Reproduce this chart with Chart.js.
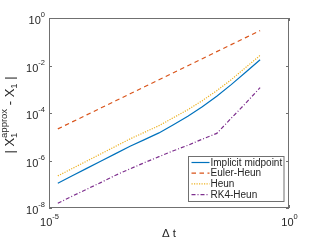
<!DOCTYPE html>
<html><head><meta charset="utf-8">
<script src="https://cdn.jsdelivr.net/npm/chart.js@4/dist/chart.umd.min.js"></script>
<style>html,body{margin:0;padding:0;background:#fff}#wrap{width:320px;height:240px}</style>
</head><body><div id="wrap"><canvas id="c" width="320" height="240"></canvas></div>
<script>
// ---- data ----
const dt = [1.52587890625e-5, 3.0517578125e-5, 6.103515625e-5, 1.220703125e-4, 2.44140625e-4,
  4.8828125e-4, 9.765625e-4, 0.001953125, 0.00390625, 0.0078125, 0.015625, 0.03125, 0.0625, 0.125, 0.25];
const implicitMidpoint = [1.11e-7, 2.27e-7, 4.65e-7, 9.53e-7, 1.95e-6, 4.0e-6, 7.6e-6, 1.45e-5, 3.21e-5, 7.33e-5, 1.84e-4, 5.09e-4, 1.56e-3, 5.22e-3, 0.0175];
const eulerHeun = [2.14e-5, 4.22e-5, 8.35e-5, 1.65e-4, 3.26e-4, 6.44e-4, 1.27e-3, 2.51e-3, 4.97e-3, 9.8e-3, 0.0194, 0.0383, 0.0756, 0.149, 0.295];
const heun = [2.25e-7, 4.6e-7, 9.44e-7, 1.93e-6, 3.96e-6, 8.11e-6, 1.54e-5, 2.93e-5, 6.34e-5, 1.38e-4, 3.30e-4, 8.69e-4, 2.52e-3, 8.24e-3, 0.0266];
const rk4Heun = [1.58e-8, 3.16e-8, 6.17e-8, 1.20e-7, 2.40e-7, 4.47e-7, 8.13e-7, 1.45e-6, 2.57e-6, 4.37e-6, 7.94e-6, 1.38e-5, 6.03e-5, 2.57e-4, 1.17e-3];
const seriesNames = ['Implicit midpoint', 'Euler-Heun', 'Heun', 'RK4-Heun'];
const xTicks = [1e-5, 1];
const xTickExp = ['-5', '0'];
const yTicks = [1e-8, 1e-6, 1e-4, 1e-2, 1];
const yTickExp = ['-8', '-6', '-4', '-2', '0'];

const colors = ['#0072BD', '#D95319', '#EDB120', '#7E2F8E'];
const dashes = [[], [4.5, 3.5], [1.2, 1.3], [4, 2, 1, 2]];
const allSeries = [implicitMidpoint, eulerHeun, heun, rk4Heun];

const FONT = '"Liberation Sans", Arial, Helvetica, sans-serif';
const TXT = '#262626';
const AX = '#707070';

function pow10(ctx, exp, x, y, align, bs, es, rise) {
  ctx.font = bs + 'px ' + FONT;
  const wb = ctx.measureText('10').width;
  ctx.font = es + 'px ' + FONT;
  const we = ctx.measureText(exp).width;
  const w = wb + we;
  let x0 = align === 'right' ? x - w : (align === 'center' ? x - w / 2 : x);
  ctx.textAlign = 'left';
  ctx.textBaseline = 'alphabetic';
  ctx.fillStyle = TXT;
  ctx.font = bs + 'px ' + FONT;
  ctx.fillText('10', x0, y);
  ctx.font = es + 'px ' + FONT;
  ctx.fillText(exp, x0 + wb, y - rise);
}

const decor = {
  id: 'decor',
  afterDatasetsDraw(chart) {
    const ctx = chart.ctx;
    const a = chart.chartArea;
    const xs = chart.scales.x, ys = chart.scales.y;
    ctx.save();
    // frame
    ctx.strokeStyle = AX;
    ctx.lineWidth = 1;
    ctx.setLineDash([]);
    ctx.strokeRect(Math.round(a.left) + 0.5, Math.round(a.top) + 0.5,
      Math.round(a.right - a.left) - 1, Math.round(a.bottom - a.top) - 1);
    // y ticks
    yTicks.forEach((v, i) => {
      const py = Math.round(ys.getPixelForValue(v)) + 0.5;
      ctx.beginPath();
      ctx.moveTo(a.left, py); ctx.lineTo(a.left + 3, py);
      ctx.moveTo(a.right, py); ctx.lineTo(a.right - 3, py);
      ctx.stroke();
      pow10(ctx, yTickExp[i], a.left - 4, py + 5.5, 'right', 11, 7.5, 7);
    });
    xTicks.forEach((v, i) => {
      const px = Math.round(xs.getPixelForValue(v)) + 0.5;
      ctx.beginPath();
      ctx.moveTo(px, a.bottom); ctx.lineTo(px, a.bottom - 3);
      ctx.moveTo(px, a.top); ctx.lineTo(px, a.top + 3);
      ctx.stroke();
      pow10(ctx, xTickExp[i], px, a.bottom + 17.5, 'center', 11, 7.5, 7);
    });
    // x label
    ctx.fillStyle = TXT;
    ctx.font = '11.5px ' + FONT;
    ctx.textAlign = 'center';
    ctx.textBaseline = 'alphabetic';
    ctx.fillText('\u0394 t', (a.left + a.right) / 2, 237);
    // y label (rotated)
    ctx.save();
    ctx.translate(13.5, (a.top + a.bottom) / 2 + 2);
    ctx.rotate(-Math.PI / 2);
    const main = 13, small = 9.5;
    const parts = ['| X', '1', 'approx', ' - X', '1', ' |'];
    const sizes = [main, small, small, main, small, main];
    const ws = parts.map((p, i) => { ctx.font = sizes[i] + 'px ' + FONT; return ctx.measureText(p).width; });
    const total = ws[0] + Math.max(ws[1], ws[2]) + ws[3] + ws[4] + ws[5];
    let cx = -total / 2;
    ctx.textAlign = 'left';
    ctx.fillStyle = TXT;
    ctx.font = main + 'px ' + FONT; ctx.fillText(parts[0], cx, 0); cx += ws[0];
    ctx.font = small + 'px ' + FONT; ctx.fillText('1', cx, 3); ctx.fillText('approx', cx, -7); cx += Math.max(ws[1], ws[2]);
    ctx.font = main + 'px ' + FONT; ctx.fillText(parts[3], cx, 0); cx += ws[3];
    ctx.font = small + 'px ' + FONT; ctx.fillText('1', cx, 3); cx += ws[4];
    ctx.font = main + 'px ' + FONT; ctx.fillText(parts[5], cx, 0);
    ctx.restore();
    // legend
    const lx = 188.5, ly = 156.5, lw = 95.5, lh = 45;
    ctx.fillStyle = '#fff';
    ctx.fillRect(lx, ly, lw, lh);
    ctx.strokeStyle = AX;
    ctx.lineWidth = 1;
    ctx.strokeRect(lx, ly, lw, lh);
    const rows = [162.5, 173.2, 183.9, 194.6];
    seriesNames.forEach((n, i) => {
      ctx.strokeStyle = colors[i];
      ctx.lineWidth = 1.2;
      ctx.setLineDash(dashes[i]);
      ctx.beginPath();
      ctx.moveTo(191.5, rows[i]); ctx.lineTo(209.5, rows[i]);
      ctx.stroke();
      ctx.setLineDash([]);
      ctx.fillStyle = TXT;
      ctx.font = '10px ' + FONT;
      ctx.textAlign = 'left';
      ctx.textBaseline = 'middle';
      ctx.fillText(n, 210.5, rows[i] + 0.5);
    });
    ctx.restore();
  }
};

new Chart(document.getElementById('c'), {
  type: 'scatter',
  data: {
    datasets: allSeries.map((s, i) => ({
      label: seriesNames[i],
      data: dt.map((d, j) => ({ x: d, y: s[j] })),
      showLine: true,
      borderColor: colors[i],
      backgroundColor: colors[i],
      borderWidth: 1.2,
      borderDash: dashes[i],
      pointRadius: 0,
      tension: 0,
      fill: false
    }))
  },
  options: {
    responsive: false,
    animation: false,
    devicePixelRatio: 1,
    layout: { padding: { left: 49, top: 18, right: 31, bottom: 32 } },
    plugins: { legend: { display: false }, tooltip: { enabled: false } },
    scales: {
      x: { type: 'logarithmic', min: 1e-5, max: 1, display: false },
      y: { type: 'logarithmic', min: 1e-8, max: 1, display: false }
    }
  },
  plugins: [decor]
});
</script>
</body></html>
